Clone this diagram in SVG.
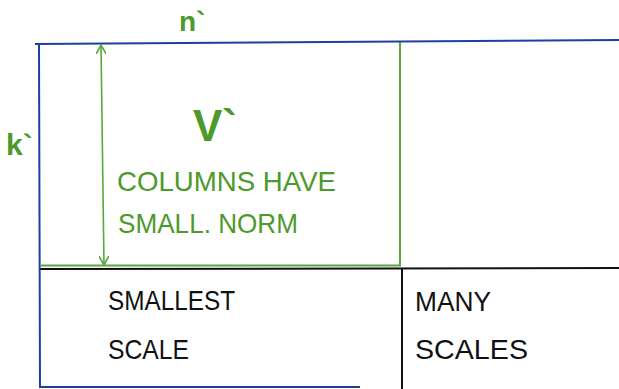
<svg xmlns="http://www.w3.org/2000/svg" width="619" height="389" viewBox="0 0 619 389">
<style>
.g{fill:#4c9a2a;font-family:"Liberation Sans",Arial,sans-serif}
.k{fill:#111;font-family:"Liberation Sans",Arial,sans-serif;font-size:28px}
.gl{stroke:#5aa83c;stroke-width:2;fill:none}
.bl{stroke:#1f3f9f;stroke-width:2;fill:none}
.kl{stroke:#111;stroke-width:2;fill:none}
</style>
<defs>
<marker id="ah" viewBox="0 0 10 10" refX="9" refY="5" markerWidth="10" markerHeight="10" markerUnits="userSpaceOnUse" orient="auto-start-reverse">
<path d="M0,0 L9,5 L0,10" fill="none" stroke="#5aa83c" stroke-width="1.6"/>
</marker>
</defs>
<g id="grid">
<path class="kl" d="M40 269 L619 268"/>
<path class="kl" d="M402 269 L402 389"/>
<path class="gl" d="M41 265.5 L400 265.5 L400 42"/>
<path class="bl" d="M35 44 L619 40"/>
<path class="bl" d="M39 45 L40 387 L360 387"/>
</g>
<g id="connectors">
<path class="gl" style="stroke-width:1.6" d="M101 45 L104 265" marker-start="url(#ah)" marker-end="url(#ah)"/>
</g>
<g id="labels">
<text class="g" x="179" y="31" font-size="28" font-weight="bold">n`</text>
<text class="g" x="6" y="155" font-size="30" font-weight="bold">k`</text>
<text class="g" x="193" y="141" font-size="44" font-weight="bold">V`</text>
</g>
<g id="text-v">
<text class="g" x="117" y="191" font-size="28" textLength="219" lengthAdjust="spacingAndGlyphs">COLUMNS  HAVE</text>
<text class="g" x="118" y="233" font-size="28" textLength="180" lengthAdjust="spacingAndGlyphs">SMALL. NORM</text>
</g>
<g id="smallest">
<text class="k" x="108" y="310" textLength="127" lengthAdjust="spacingAndGlyphs">SMALLEST</text>
<text class="k" x="108" y="359" textLength="81" lengthAdjust="spacingAndGlyphs">SCALE</text>
</g>
<g id="many">
<text class="k" x="415" y="311" font-size="32" textLength="76" lengthAdjust="spacingAndGlyphs">MANY</text>
<text class="k" x="415" y="359" font-size="36" textLength="113" lengthAdjust="spacingAndGlyphs">SCALES</text>
</g>
</svg>
